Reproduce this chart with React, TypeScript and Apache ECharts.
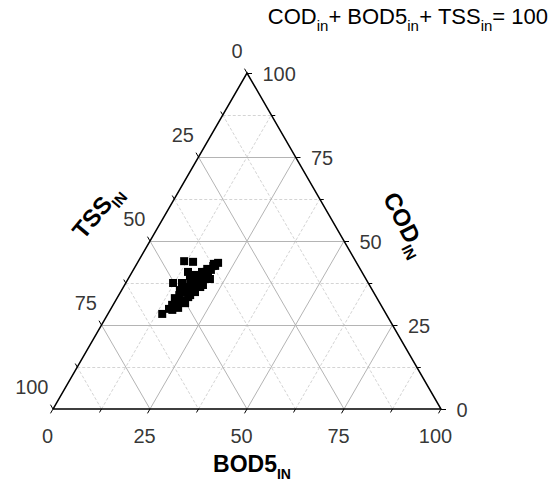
import React, { useEffect, useRef } from "react";
import * as echarts from "echarts";

// Ternary data (COD_in, BOD5_in, TSS_in; sum = 100)
const COD = [44.0, 43.8, 43.5, 42.6, 41.7, 41.4, 40.8, 39.9, 39.6, 39.9, 38.7, 37.8, 37.5, 37.5, 37.5, 36.3, 35.7, 34.8, 33.9, 33.0, 32.4, 33.3, 31.0, 31.0, 29.8, 28.3, 39.3, 43.2, 38.4, 36.3, 31.9, 35.4, 40.8, 42.6, 38.7, 36.9, 36.3, 34.8, 33.9, 31.5, 30.1, 29.5, 40.8];
const BOD5 = [11.8, 14.2, 20.8, 20.0, 18.9, 20.0, 18.0, 16.9, 15.5, 20.0, 19.6, 18.5, 16.6, 14.5, 12.2, 18.5, 17.7, 16.9, 15.6, 14.9, 17.3, 18.2, 15.2, 16.7, 15.0, 14.0, 18.2, 19.9, 17.1, 15.9, 15.8, 15.0, 19.0, 20.5, 21.1, 20.2, 19.8, 19.2, 18.4, 18.3, 17.2, 16.0, 14.4];
const TSS = [44.2, 42.0, 35.7, 37.4, 39.4, 38.6, 41.2, 43.2, 44.9, 40.1, 41.7, 43.7, 45.9, 48.0, 50.3, 45.2, 46.6, 48.3, 50.5, 52.1, 50.3, 48.5, 53.8, 52.3, 55.2, 57.7, 42.5, 36.9, 44.5, 47.8, 52.3, 49.6, 40.2, 36.9, 40.2, 42.9, 43.9, 46.0, 47.7, 50.2, 52.7, 54.5, 44.8];

const MAJOR_TICKS = [0, 25, 50, 75, 100];
const MINOR_TICKS = [12.5, 37.5, 62.5, 87.5];
const INNER_MAJOR = [25, 50, 75];

const H = Math.sqrt(3) / 2;
const FONT = "'Liberation Sans', Arial, sans-serif";

// ternary (cod, bod, tss) -> cartesian (x, y); COD at top, BOD5 at bottom-right, TSS at bottom-left
function toXY(cod: number, bod: number, tss: number): [number, number] {
  const s = cod + bod + tss;
  const c = (cod / s) * 100;
  const b = (bod / s) * 100;
  return [b + c / 2, c * H];
}

function gridLinesFor(v: number) {
  return [
    // constant COD
    { coords: [[v / 2, v * H], [100 - v / 2, v * H]] },
    // constant BOD5
    { coords: [[v, 0], [v + (100 - v) / 2, (100 - v) * H]] },
    // constant TSS
    { coords: [[(100 - v) / 2, (100 - v) * H], [100 - v, 0]] },
  ];
}

const PX_PER_UNIT = 3.88;

function tickLines(vals: number[], lenPx: number) {
  const L = lenPx / PX_PER_UNIT;
  const out: any[] = [];
  vals.forEach((v) => {
    // bottom (BOD5)
    out.push({ coords: [[v, 0], [v - 0.5 * L, -H * L]] });
    // right (COD)
    out.push({ coords: [[100 - v / 2, v * H], [100 - v / 2 + L, v * H]] });
    // left (TSS)
    out.push({ coords: [[(100 - v) / 2, (100 - v) * H], [(100 - v) / 2 - 0.5 * L, (100 - v) * H + H * L]] });
  });
  return out;
}

export default function App() {
  const ref = useRef<HTMLDivElement>(null);
  useEffect(() => {
    if (!ref.current) return;
    const chart = echarts.init(ref.current, undefined, { renderer: "svg" });
    const points = COD.map((c, i) => toXY(c, BOD5[i], TSS[i]));

    const bottomLabels = MAJOR_TICKS.map((v) => ({ value: [v, 0], name: String(v) }));
    const rightLabels = MAJOR_TICKS.map((v) => ({ value: [100 - v / 2, v * H], name: String(v) }));
    const leftLabels = MAJOR_TICKS.map((v) => ({ value: [(100 - v) / 2, (100 - v) * H], name: String(v) }));

    const labelSeries = (data: any[], pos: number[], align: string) => ({
      type: "scatter",
      data,
      symbolSize: 1,
      itemStyle: { color: "rgba(0,0,0,0)" },
      clip: false,
      silent: true,
      z: 5,
      label: {
        show: true,
        formatter: (p: any) => p.name,
        position: pos,
        align,
        verticalAlign: "middle",
        fontSize: 20,
        fontFamily: FONT,
        color: "#000",
      },
    });

    const rich = (size: number, sub: number, bold: boolean, pad: number) => ({
      t: { fontSize: size, fontFamily: FONT, fontWeight: bold ? "bold" : "normal", fill: "#000", color: "#000", verticalAlign: "bottom", padding: [0, 0, pad, 0], lineHeight: size + 2 },
      s: { fontSize: sub, fontFamily: FONT, fontWeight: bold ? "bold" : "normal", fill: "#000", color: "#000", verticalAlign: "bottom", lineHeight: sub + 1 },
    });

    chart.setOption({
      animation: false,
      backgroundColor: "#fff",
      grid: { left: 53, top: 73, width: 388, height: 388 * H },
      xAxis: { type: "value", min: 0, max: 100, show: false },
      yAxis: { type: "value", min: 0, max: 100 * H, show: false },
      series: [
        {
          type: "lines",
          coordinateSystem: "cartesian2d",
          clip: false,
          silent: true,
          z: 1,
          lineStyle: { color: "#d4d4d4", width: 1, type: [3, 2], opacity: 1 },
          data: MINOR_TICKS.flatMap((v) => gridLinesFor(v)),
        },
        {
          type: "lines",
          coordinateSystem: "cartesian2d",
          clip: false,
          silent: true,
          z: 2,
          lineStyle: { color: "#b4b4b4", width: 1, type: "solid", opacity: 1 },
          data: INNER_MAJOR.flatMap((v) => gridLinesFor(v)),
        },
        {
          type: "lines",
          coordinateSystem: "cartesian2d",
          clip: false,
          silent: true,
          z: 3,
          lineStyle: { color: "#000", width: 1, opacity: 1 },
          data: [...tickLines(MAJOR_TICKS, 5), ...tickLines(MINOR_TICKS, 4)],
        },
        {
          type: "lines",
          coordinateSystem: "cartesian2d",
          polyline: true,
          clip: false,
          silent: true,
          z: 3,
          lineStyle: { color: "#000", width: 1.5, opacity: 1 },
          data: [{ coords: [[0, 0], [100, 0], [50, 100 * H], [0, 0]] }],
        },
        {
          type: "scatter",
          data: points,
          symbol: "rect",
          symbolSize: 8,
          itemStyle: { color: "#000", opacity: 1 },
          clip: false,
          z: 6,
        },
        labelSeries(bottomLabels, [-5, 27], "center"),
        labelSeries(rightLabels, [16, 1], "left"),
        labelSeries(leftLabels, [-4, -22], "right"),
      ],
      graphic: [
        {
          type: "text",
          x: 548,
          y: 33,
          style: {
            text: "{t|COD}{s|in}{t|+ BOD5}{s|in}{t|+ TSS}{s|in}{t|= 100}",
            rich: rich(22, 15, false, 6),
            textAlign: "right",
            align: "right",
            textVerticalAlign: "bottom",
            verticalAlign: "bottom",
          },
        },
        {
          type: "text",
          x: 252,
          y: 468,
          style: {
            text: "{t|BOD5}{s|IN}",
            rich: rich(23, 14, true, 5),
            textAlign: "center",
            align: "center",
            textVerticalAlign: "middle",
            verticalAlign: "middle",
          },
        },
        {
          type: "text",
          x: 100,
          y: 214,
          rotation: (50 * Math.PI) / 180,
          style: {
            text: "{t|TSS}{s|IN}",
            rich: rich(24, 15, true, 5),
            textAlign: "center",
            align: "center",
            textVerticalAlign: "middle",
            verticalAlign: "middle",
          },
        },
        {
          type: "text",
          x: 402,
          y: 226,
          rotation: (-63 * Math.PI) / 180,
          style: {
            text: "{t|COD}{s|IN}",
            rich: rich(24, 15, true, 5),
            textAlign: "center",
            align: "center",
            textVerticalAlign: "middle",
            verticalAlign: "middle",
          },
        },
      ],
    });
    return () => chart.dispose();
  }, []);
  return <div ref={ref} style={{ position: "absolute", left: 0, top: 0, width: 555, height: 480 }} />;
}
